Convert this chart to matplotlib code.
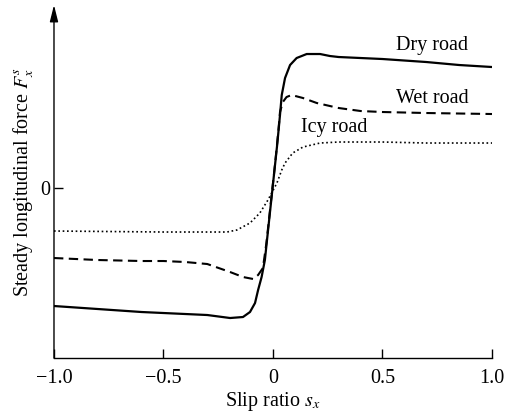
import matplotlib
matplotlib.use("Agg")
import matplotlib.pyplot as plt

plt.rcParams['font.family'] = ['Liberation Serif', 'DejaVu Serif']
plt.rcParams['mathtext.fontset'] = 'stix'

# Data (force in arbitrary units)
dry_x = [-1.0, -0.8, -0.6, -0.5, -0.4, -0.3, -0.196, -0.137, -0.105, -0.082, -0.068,
         -0.052, -0.037, -0.02, 0.0, 0.02, 0.032, 0.04, 0.055, 0.078, 0.108, 0.154,
         0.215, 0.26, 0.3, 0.5, 0.7, 0.85, 1.0]
dry_y = [-118, -121, -124, -125, -126, -127, -130, -129, -124, -115, -102,
         -89, -72, -37, 4, 45, 73, 93, 110, 123, 130, 134,
         134, 132, 131, 129, 126, 123, 121]

wet_x = [-1.0, -0.8, -0.6, -0.5, -0.4, -0.3, -0.196, -0.137, -0.09, -0.068, -0.046,
         -0.03, -0.01, 0.01, 0.025, 0.032, 0.045, 0.062, 0.085, 0.137, 0.2, 0.3, 0.4,
         0.5, 0.7, 1.0]
wet_y = [-70, -72, -73, -73, -74, -76, -84, -89, -91, -87, -80,
         -55, -15, 25, 58, 76, 86, 91, 93, 90, 85, 80, 77,
         76, 75, 74]

icy_x = [-1.0, -0.5, -0.21, -0.165, -0.105, -0.06, -0.023, 0.018, 0.04, 0.055, 0.09,
         0.137, 0.215, 0.3, 0.5, 0.7, 1.0]
icy_y = [-43, -44, -44, -42, -35, -25, -12, 5, 18, 25, 35,
         41, 45, 46, 46, 45, 45]

xticks = [-1.0, -0.5, 0.0, 0.5, 1.0]
xtick_labels = ['\u22121.0', '\u22120.5', '0', '0.5', '1.0']
road_labels = ['Dry road', 'Wet road', 'Icy road']
label_pos = [(0.726, 143), (0.726, 90), (0.279, 61)]

fig = plt.figure(figsize=(5.06, 4.18), dpi=100)
ax = fig.add_axes([0.1067, 0.1435, 0.8656, 0.8445])

ax.plot(dry_x, dry_y, color='black', lw=1.6, solid_capstyle='round',
        solid_joinstyle='round')
ax.plot(wet_x, wet_y, color='black', lw=1.5, linestyle=(0, (4.5, 2.6)))
ax.plot(icy_x, icy_y, color='black', lw=1.2, linestyle=(0, (1, 1.6)))

for txt, (tx, ty) in zip(road_labels, label_pos):
    ax.text(tx, ty, txt, ha='center', va='center', fontsize=14.5)

ax.set_xlim(-1.0, 1.0)
ax.set_ylim(-170, 183)

for s in ['top', 'right', 'left']:
    ax.spines[s].set_visible(False)
ax.spines['bottom'].set_linewidth(1.0)

ax.annotate('', xy=(0, 1), xytext=(0, 0), xycoords='axes fraction',
            textcoords='axes fraction',
            arrowprops=dict(arrowstyle='-|>,head_length=1.0,head_width=0.25',
                            lw=1.0, color='black', mutation_scale=10,
                            shrinkA=0, shrinkB=0))

ax.set_xticks(xticks)
ax.set_xticklabels(xtick_labels)
ax.set_yticks([0])
ax.set_yticklabels(['0'])
ax.tick_params(axis='x', direction='in', length=6.5, width=1.0, pad=8, labelsize=14.5)
ax.tick_params(axis='y', direction='in', length=6.5, width=1.0, pad=3, labelsize=14.5)

ax.set_xlabel('Slip ratio $s_x$', fontsize=14.5, labelpad=1)
ax.set_ylabel('Steady longitudinal force $F_x^s$', fontsize=14.5, labelpad=3)

fig.savefig('out.png', dpi=100)
